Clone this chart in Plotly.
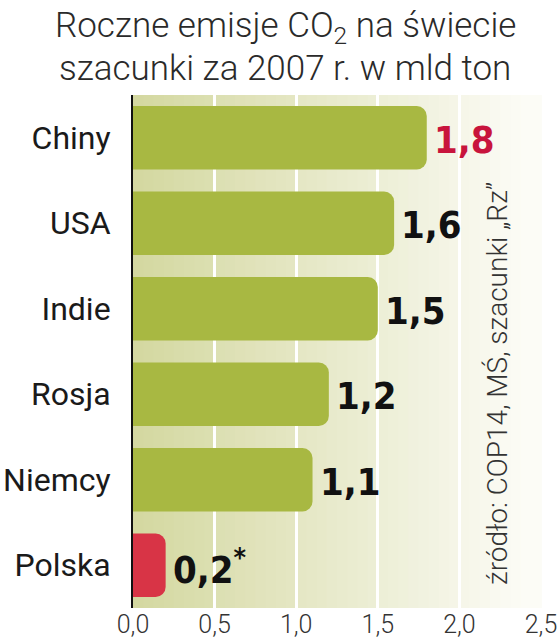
import plotly.graph_objects as go

countries = ["Chiny", "USA", "Indie", "Rosja", "Niemcy", "Polska"]
values = [1.8, 1.6, 1.5, 1.2, 1.1, 0.2]
value_labels = ["1,8", "1,6", "1,5", "1,2", "1,1", "0,2<sup>*</sup>"]
tick_vals = [0, 0.5, 1.0, 1.5, 2.0, 2.5]
tick_text = ["0,0", "0,5", "1,0", "1,5", "2,0", "2,5"]
title_lines = ["Roczne emisje CO<sub>2</sub> na świecie", "szacunki za 2007 r. w mld ton"]
source_note = "źródło: COP14, MŚ, szacunki „Rz”"

bar_colors = ["#a8b842"] * 5 + ["#d83446"]
label_colors = ["#c8143c"] + ["#111111"] * 5

LIGHT_FONT = "Roboto, Open Sans, sans-serif"
BOLD_FONT = "DejaVu Sans Condensed, DejaVu Sans, sans-serif"

L, R, T, B = 133, 16, 95, 32
W, H = 557, 640
PW, PH = W - L - R, H - T - B


def px(x):
    return (x - L) / PW


def py(y):
    return (H - B - y) / PH


fig = go.Figure()
fig.add_trace(go.Bar(
    x=values, y=countries, orientation="h",
    marker=dict(color=bar_colors, line=dict(width=0)),
    hoverinfo="skip",
))

# value labels
for c, v, t, col in zip(countries, values, value_labels, label_colors):
    fig.add_annotation(x=v, y=c, xref="x", yref="y", text=t, showarrow=False,
                       xanchor="left", xshift=5, yshift=-2,
                       font=dict(family=BOLD_FONT, size=38, color=col, weight="bold"))

# background gradient
N = 40
c0 = (212, 216, 160)
c1 = (252, 252, 246)
shapes = []
for i in range(N):
    f = (i + 0.5) / N
    f2 = min(1.0, f * 1.05)
    r = int(c0[0] + (c1[0] - c0[0]) * f2)
    g = int(c0[1] + (c1[1] - c0[1]) * f2)
    b = int(c0[2] + (c1[2] - c0[2]) * f2)
    shapes.append(dict(type="rect", xref="x domain", yref="y domain",
                       x0=i / N, x1=(i + 1) / N + 0.002, y0=0, y1=1,
                       fillcolor=f"rgb({r},{g},{b})", line=dict(width=0),
                       layer="below"))

fig.update_layout(
    width=W, height=H,
    margin=dict(l=L, r=R, t=T, b=B),
    paper_bgcolor="white", plot_bgcolor="rgba(0,0,0,0)",
    shapes=shapes,
    bargap=0.26,
    barcornerradius=10,
    showlegend=False,
    xaxis=dict(range=[0, 2.5], tickvals=tick_vals, ticktext=tick_text,
               showgrid=True, gridcolor="white", gridwidth=3,
               zeroline=False, showline=False, ticks="", automargin=False,
               ticklabeloverflow="allow", ticklabelstandoff=-1,
               tickfont=dict(family=LIGHT_FONT, size=25, color="#333333", weight=300),
               fixedrange=True),
    yaxis=dict(categoryorder="array", categoryarray=countries, autorange="reversed",
               showline=True, linecolor="#111111", linewidth=2, automargin=False,
               showgrid=False, zeroline=False, ticks="", ticklabelstandoff=14,
               tickfont=dict(family="Roboto, sans-serif", size=32, color="#1a1a1a"),
               fixedrange=True),
)

# title (two lines, tight leading)
for line, yc in zip(title_lines, [27, 68]):
    fig.add_annotation(x=px(285), y=py(yc), xref="paper", yref="paper",
                       xanchor="center", yanchor="middle", text=line,
                       showarrow=False, align="center",
                       font=dict(family=LIGHT_FONT, size=35, color="#2a2a2a", weight=300))
# source note
fig.add_annotation(x=px(497), y=py(384), xref="paper", yref="paper",
                   text=source_note, textangle=-90,
                   showarrow=False, xanchor="center", yanchor="middle",
                   font=dict(family=LIGHT_FONT, size=28, color="#333333", weight=300))

fig.write_html("out.html", config={"displayModeBar": False},
               post_script="document.body.style.margin='0';")
